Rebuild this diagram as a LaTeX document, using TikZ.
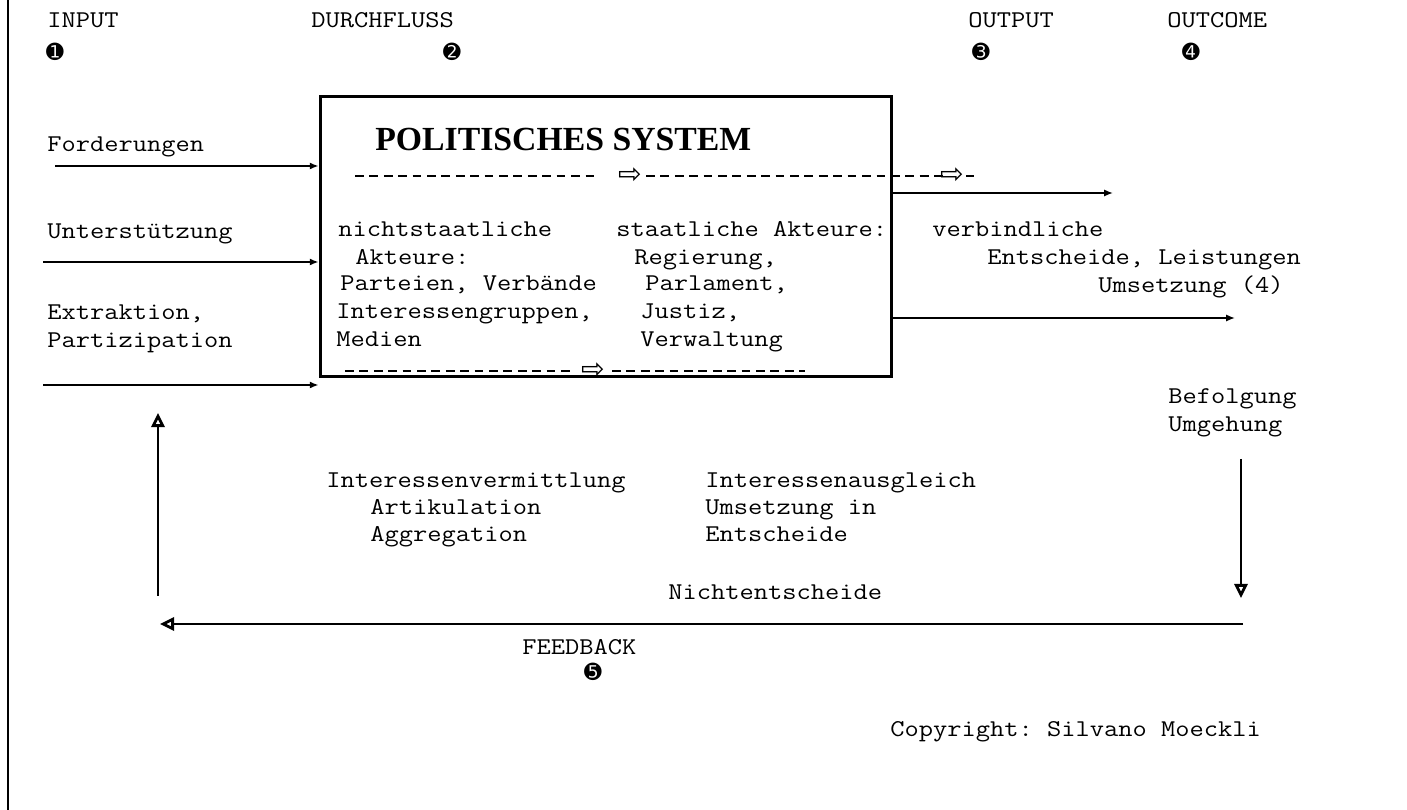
\documentclass[tikz,border=0pt]{standalone}
\usepackage{fontspec}
\setmainfont{Latin Modern Mono}[FakeStretch=1.15]
\newfontfamily\titlefont{Liberation Serif}
\newfontfamily\symfont{DejaVu Sans}
\usetikzlibrary{arrows.meta}
\frenchspacing

\tikzset{
  lbl/.style={anchor=base west, inner sep=0pt, font=\fontsize{13.7}{16}\selectfont},
  num/.style={inner sep=0pt, font=\symfont\fontsize{12}{12}\selectfont},
  hollow/.style={inner sep=0pt, font=\symfont\fontsize{16}{16}\selectfont},
  flow/.style={line width=0.9pt, -{Latex[length=5pt,width=4pt]}},
  back/.style={line width=0.9pt, -{Triangle[open,length=8pt,width=7.5pt,line width=1.6pt]}},
  dashline/.style={line width=0.9pt, dash pattern=on 5pt off 3.2pt},
}

\begin{document}
\begin{tikzpicture}[x=0.02cm, y=-0.02cm]
  \useasboundingbox (0,0) rectangle (1407,810);
  \draw[line width=1.6pt] (8,0) -- (8,810);

  % stages
  \node[lbl] (input) at (47,28) {INPUT};
  \node[lbl] (durchfluss) at (311,28) {DURCHFLUSS};
  \node[lbl] (output) at (968,28) {OUTPUT};
  \node[lbl] (outcome) at (1167,28) {OUTCOME};
  \node[num] (n1) at (55,52) {➊};
  \node[num] (n2) at (452,52) {➋};
  \node[num] (n3) at (981,52) {➌};
  \node[num] (n4) at (1191,52) {➍};

  % system box
  \node[draw, line width=1.7pt, minimum width=11.44cm, minimum height=5.62cm, inner sep=0pt]
    (system) at (606,236.5) {};
  \node[anchor=base west, inner sep=0pt, font=\titlefont\bfseries\fontsize{19.2}{22}\selectfont]
    (title) at (375,151) {POLITISCHES SYSTEM};
  \draw[dashline] (355,176) -- (597,176);
  \node[hollow] (h1) at (630,176) {⇨};
  \draw[dashline] (646,176) -- (943,176);
  \node[hollow] (h2) at (952,176) {⇨};
  \draw[dashline] (966,176) -- (974,176);
  \draw[dashline] (345,371) -- (572,371);
  \node[hollow] (h3) at (593,371) {⇨};
  \draw[dashline] (612,371) -- (805,371);

  \node[lbl] (ns1) at (338,237) {nichtstaatliche};
  \node[lbl] (ns2) at (355,265) {Akteure:};
  \node[lbl] (ns3) at (340,291) {Parteien, Verbände};
  \node[lbl] (ns4) at (336,319) {Interessengruppen,};
  \node[lbl] (ns5) at (336,347) {Medien};
  \node[lbl] (st1) at (616,237) {staatliche Akteure:};
  \node[lbl] (st2) at (634,265) {Regierung,};
  \node[lbl] (st3) at (645,291) {Parlament,};
  \node[lbl] (st4) at (640,319) {Justiz,};
  \node[lbl] (st5) at (640,347) {Verwaltung};

  % input side
  \node[lbl] (ford) at (47,152) {Forderungen};
  \node[lbl] (unter) at (47,239) {Unterstützung};
  \node[lbl] (extr) at (47,320) {Extraktion,};
  \node[lbl] (part) at (47,348) {Partizipation};
  \coordinate (a1) at (55,166);
  \coordinate (a2) at (43,262);
  \coordinate (a3) at (43,385);
  \draw[flow] (a1) -- (a1 -| system.west);
  \draw[flow] (a2) -- (a2 -| system.west);
  \draw[flow] (a3) -- (a3 -| system.west);

  % output side
  \coordinate (o1) at (1113,193);
  \coordinate (o2) at (1235,318);
  \draw[flow] (o1 -| system.east) -- (o1);
  \draw[flow] (o2 -| system.east) -- (o2);
  \node[lbl] (verb) at (932,237) {verbindliche};
  \node[lbl] (ents) at (987,265) {Entscheide, Leistungen};
  \node[lbl] (ums) at (1098,293) {Umsetzung (4)};
  \node[lbl] (bef) at (1168,404) {Befolgung};
  \node[lbl] (umg) at (1168,432) {Umgehung};

  % middle texts
  \node[lbl] (iv) at (326,488) {Interessenvermittlung};
  \node[lbl] (art) at (370,515) {Artikulation};
  \node[lbl] (agg) at (370,542) {Aggregation};
  \node[lbl] (ia) at (705,488) {Interessenausgleich};
  \node[lbl] (ui) at (705,515) {Umsetzung in};
  \node[lbl] (ent) at (705,542) {Entscheide};
  \node[lbl] (nicht) at (668,600) {Nichtentscheide};

  % feedback loop
  \coordinate (d0) at (1241,459);
  \coordinate (d1) at (1241,598);
  \coordinate (f0) at (1243,624);
  \coordinate (f1) at (160,624);
  \coordinate (u0) at (158,596);
  \coordinate (u1) at (158,413);
  \draw[back] (d0) -- (d1);
  \draw[back] (f0) -- (f1);
  \draw[back] (u0) -- (u1);
  \node[lbl] (fb) at (522,655) {FEEDBACK};
  \node[num] (n5) at (593,672) {➎};

  \node[lbl] (copy) at (890,736) {Copyright: Silvano Moeckli};
\end{tikzpicture}
\end{document}
